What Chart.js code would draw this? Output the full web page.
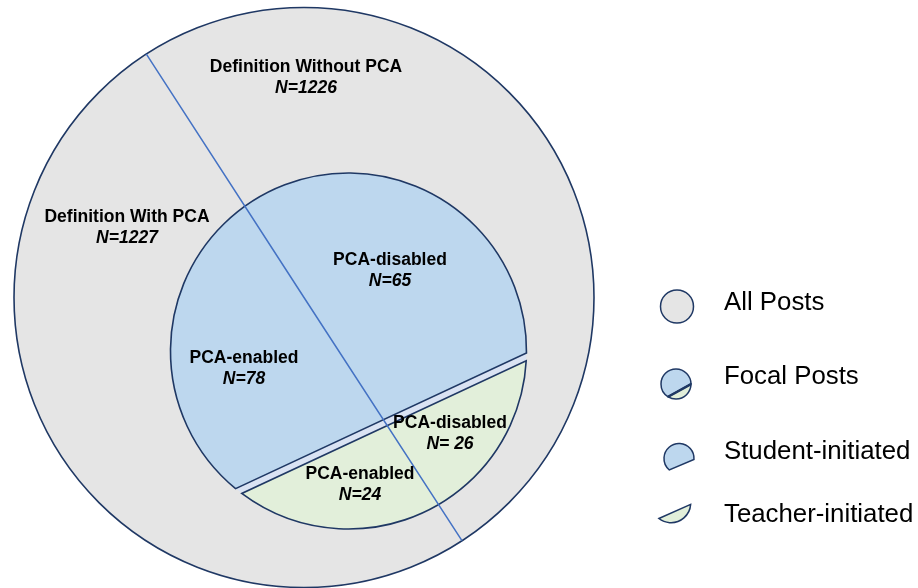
<!DOCTYPE html>
<html>
<head>
<meta charset="utf-8">
<title>All Posts / Focal Posts</title>
<script src="https://cdn.jsdelivr.net/npm/chart.js@4.4.1/dist/chart.umd.min.js"></script>
<style>
    html, body { margin: 0; padding: 0; background: #ffffff; }
    #wrap { width: 918px; height: 588px; }
</style>
</head>
<body>
<div id="wrap"><canvas id="postsChart" width="918" height="588"></canvas></div>
<script>
// Datos
const allLabels = ['Definition With PCA', 'Definition Without PCA'];
const allCounts = [1227, 1226];
const studentLabels = ['PCA-enabled', 'PCA-disabled'];
const studentCounts = [78, 65];
const teacherLabels = ['PCA-enabled', 'PCA-disabled'];
const teacherCounts = [24, 26];
const legendLabels = ['All Posts', 'Focal Posts', 'Student-initiated', 'Teacher-initiated'];

// Colores
const GRAY = '#e5e5e5';
const BLUE = '#bdd7ee';
const GREEN = '#e2efda';
const GAP = '#dae3f3';
const NAVY = '#1f3864';
const LINE = '#4472c4';
const FONT = '"Liberation Sans", Arial, sans-serif';

// Posiciones de las etiquetas (pixeles)
const allPos = [[127, 217], [306, 67]];
const studentPos = [[244, 358], [390, 260]];
const teacherPos = [[360, 474], [450, 423]];
const teacherSep = ['', ' '];

// circulo interior relativo al circulo exterior
const inner = { dx: 0.1534, dy: 0.1845, r: 0.6138, normal: 65, blueCut: 0.4326, greenCut: 0.4719 };

function segment(ctx, x, y, r, normalDeg, cut, top) {
    const n = normalDeg * Math.PI / 180;
    const phi = Math.acos(cut);
    ctx.beginPath();
    if (top) {
        ctx.arc(x, y, r, n - phi, n + phi, true);
    } else {
        ctx.arc(x, y, r, n - phi, n + phi, false);
    }
    ctx.closePath();
}

function drawLabel(ctx, text, nText, x, y) {
    ctx.fillStyle = '#000000';
    ctx.textAlign = 'center';
    ctx.textBaseline = 'middle';
    ctx.font = 'bold 17.5px ' + FONT;
    ctx.fillText(text, x, y);
    ctx.font = 'italic bold 17.5px ' + FONT;
    ctx.fillText(nText, x, y + 21.5);
}

function drawLegend(ctx) {
    ctx.lineWidth = 1.5;
    ctx.strokeStyle = NAVY;

    // All Posts
    ctx.beginPath();
    ctx.arc(677, 306.5, 16.5, 0, Math.PI * 2);
    ctx.fillStyle = GRAY;
    ctx.fill();
    ctx.stroke();

    // Focal Posts
    segment(ctx, 676, 384, 15, 61, 0.49, true);
    ctx.fillStyle = BLUE; ctx.fill(); ctx.stroke();
    segment(ctx, 676, 384, 15, 61, 0.49, false);
    ctx.fillStyle = GREEN; ctx.fill(); ctx.stroke();
    const n = 61 * Math.PI / 180, phi = Math.acos(0.49);
    ctx.beginPath();
    ctx.moveTo(676 + 15 * Math.cos(n - phi), 384 + 15 * Math.sin(n - phi));
    ctx.lineTo(676 + 15 * Math.cos(n + phi), 384 + 15 * Math.sin(n + phi));
    ctx.lineWidth = 2.5;
    ctx.stroke();
    ctx.lineWidth = 1.5;

    // Student-initiated
    segment(ctx, 679, 458.5, 15, 67, 0.45, true);
    ctx.fillStyle = BLUE; ctx.fill(); ctx.stroke();

    // Teacher-initiated
    segment(ctx, 671, 503, 19.7, 66, 0.47, false);
    ctx.fillStyle = GREEN; ctx.fill(); ctx.stroke();

    ctx.fillStyle = '#000000';
    ctx.textAlign = 'left';
    ctx.textBaseline = 'middle';
    ctx.font = '25.8px ' + FONT;
    const ys = [303, 377, 451.5, 515];
    legendLabels.forEach((t, i) => ctx.fillText(t, 724, ys[i]));
}

const focalPlugin = {
    id: 'focalPosts',
    afterDatasetsDraw(chart) {
        const ctx = chart.ctx;
        const arcs = chart.getDatasetMeta(0).data;
        const cx = arcs[0].x, cy = arcs[0].y, R = arcs[0].outerRadius;
        ctx.save();

        // borde exterior
        ctx.beginPath();
        ctx.arc(cx, cy, R, 0, Math.PI * 2);
        ctx.strokeStyle = NAVY;
        ctx.lineWidth = 1.6;
        ctx.stroke();

        // circulo de posts focales
        const ix = cx + R * inner.dx, iy = cy + R * inner.dy, ir = R * inner.r;
        ctx.beginPath();
        ctx.arc(ix, iy, ir, 0, Math.PI * 2);
        ctx.fillStyle = GAP;
        ctx.fill();

        segment(ctx, ix, iy, ir, inner.normal, inner.blueCut, true);
        ctx.fillStyle = BLUE; ctx.fill(); ctx.stroke();
        segment(ctx, ix, iy, ir, inner.normal, inner.greenCut, false);
        ctx.fillStyle = GREEN; ctx.fill(); ctx.stroke();

        // linea diagonal (bordes del pie)
        const a0 = arcs[0].startAngle, a1 = arcs[0].endAngle;
        ctx.beginPath();
        ctx.moveTo(cx + R * Math.cos(a0), cy + R * Math.sin(a0));
        ctx.lineTo(cx, cy);
        ctx.lineTo(cx + R * Math.cos(a1), cy + R * Math.sin(a1));
        ctx.strokeStyle = LINE;
        ctx.lineWidth = 1.5;
        ctx.stroke();

        // etiquetas
        allLabels.forEach((t, i) => drawLabel(ctx, t, 'N=' + allCounts[i], allPos[i][0], allPos[i][1]));
        studentLabels.forEach((t, i) => drawLabel(ctx, t, 'N=' + studentCounts[i], studentPos[i][0], studentPos[i][1]));
        teacherLabels.forEach((t, i) => drawLabel(ctx, t, 'N=' + teacherSep[i] + teacherCounts[i], teacherPos[i][0], teacherPos[i][1]));

        drawLegend(ctx);
        ctx.restore();
    }
};

const ctx = document.getElementById('postsChart').getContext('2d');
new Chart(ctx, {
    type: 'pie',
    data: {
        labels: allLabels,
        datasets: [{
            data: allCounts,
            backgroundColor: [GRAY, GRAY],
            borderWidth: 0
        }]
    },
    options: {
        responsive: false,
        animation: false,
        rotation: 147,
        layout: {
            padding: { left: 14, top: 7.5, right: 324, bottom: 0.5 }
        },
        plugins: {
            legend: { display: false },
            tooltip: { enabled: false }
        }
    },
    plugins: [focalPlugin]
});
</script>
</body>
</html>
